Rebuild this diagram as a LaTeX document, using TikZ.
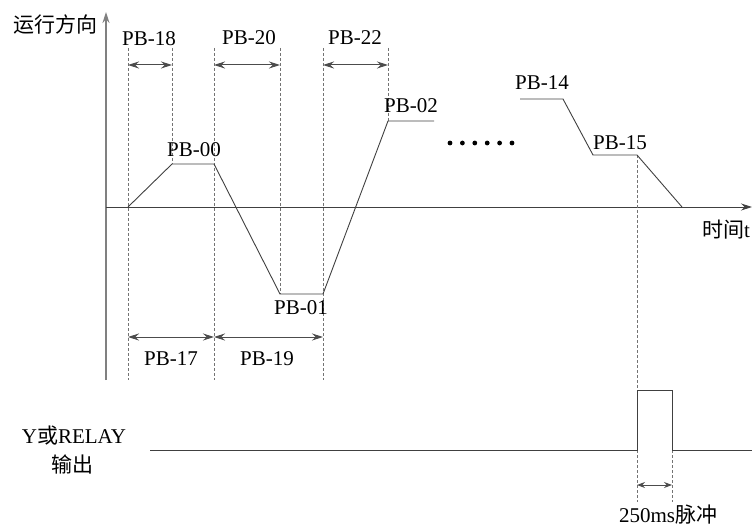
\documentclass[tikz,border=0pt]{standalone}
\usepackage{fontspec}
\setmainfont{Liberation Serif}
\newfontfamily\cjk{Noto Sans CJK SC}
\usetikzlibrary{arrows.meta}

\begin{document}
\begin{tikzpicture}[x=1pt,y=-1pt,
    >={Stealth[length=11pt,width=7pt]},
    curve/.style={draw=black!75,line width=0.9pt},
    guide/.style={draw=black!55,line width=0.7pt,dash pattern=on 3pt off 2pt},
    span/.style={<->,draw=black!70,line width=1pt},
    lbl/.style={font=\fontsize{21}{23}\selectfont,inner sep=0pt}]
    \useasboundingbox (0,0) rectangle (752,529);
    % Axes
    \coordinate (o) at (106,207);
    \draw[-{Stealth[length=11pt,width=7pt]},draw=black!50,line width=1.6pt] (106,380) -- (106,12) coordinate (ytop);
    \draw[->,draw=black!75,line width=0.9pt] (o) -- (752,207) coordinate (xend);
    \node[lbl,anchor=east] (dir) at (98,25) {\cjk 运行方向};
    \node[lbl] (time) at (726,230) {\cjk 时间\rmfamily t};
    % Dashed guides
    \foreach \x/\top/\bot in {128/48/380, 172/48/164, 214/48/380, 280/48/294,
      323/48/380, 388/48/121, 637/155/502, 672/450/502} {
      \draw[guide] (\x,\top) -- (\x,\bot);
    }
    % Speed profile
    \coordinate (p0) at (128,207);
    \coordinate (p1) at (172,164);
    \coordinate (p2) at (214,164);
    \coordinate (p3) at (280,294);
    \coordinate (p4) at (323,294);
    \coordinate (p5) at (388,121);
    \coordinate (p6) at (434,121);
    \draw[curve] (p0) -- (p1) -- (p2) -- (p3) -- (p4) -- (p5) -- (p6);
    \coordinate (q0) at (520,99);
    \coordinate (q1) at (563,99);
    \coordinate (q2) at (593,155);
    \coordinate (q3) at (637,155);
    \coordinate (q4) at (682,207);
    \draw[curve] (q0) -- (q1) -- (q2) -- (q3) -- (q4);
    \foreach \i in {0,...,5} {
      \fill[black] (450+12.4*\i,143) circle (2.4pt);
    }
    % Time spans
    \foreach \a/\b/\y/\label/\lx/\ly in {
      128/172/65/PB-18/149/39,
      214/280/65/PB-20/249/38,
      323/388/65/PB-22/355/38,
      128/214/337/PB-17/171/359,
      214/323/337/PB-19/267/359
    } {
      \draw[span] (\a,\y) -- (\b,\y);
      \node[lbl] at (\lx,\ly) {\label};
    }
    % Level labels
    \foreach \name/\label/\lx/\ly in {
      pb00/PB-00/194/150, pb01/PB-01/301/308, pb02/PB-02/411/106,
      pb14/PB-14/542/83, pb15/PB-15/620/143
    } {
      \node[lbl] (\name) at (\lx,\ly) {\label};
    }
    % Output pulse
    \coordinate (r0) at (150,450);
    \coordinate (r1) at (637,450);
    \coordinate (r2) at (637,390);
    \coordinate (r3) at (672,390);
    \coordinate (r4) at (672,450);
    \coordinate (r5) at (752,450);
    \draw[curve] (r0) -- (r1) -- (r2) -- (r3) -- (r4) -- (r5);
    \draw[<->,draw=black!70,line width=1pt,>={Stealth[length=8pt,width=6pt]}] (637,485) -- (672,485);
    \node[lbl] (relay) at (74,436) {Y{\cjk 或}RELAY};
    \node[lbl] (out) at (72,464) {\cjk 输出};
    \node[lbl] (pulse) at (668,515) {250ms{\cjk 脉冲}};
\end{tikzpicture}
\end{document}
